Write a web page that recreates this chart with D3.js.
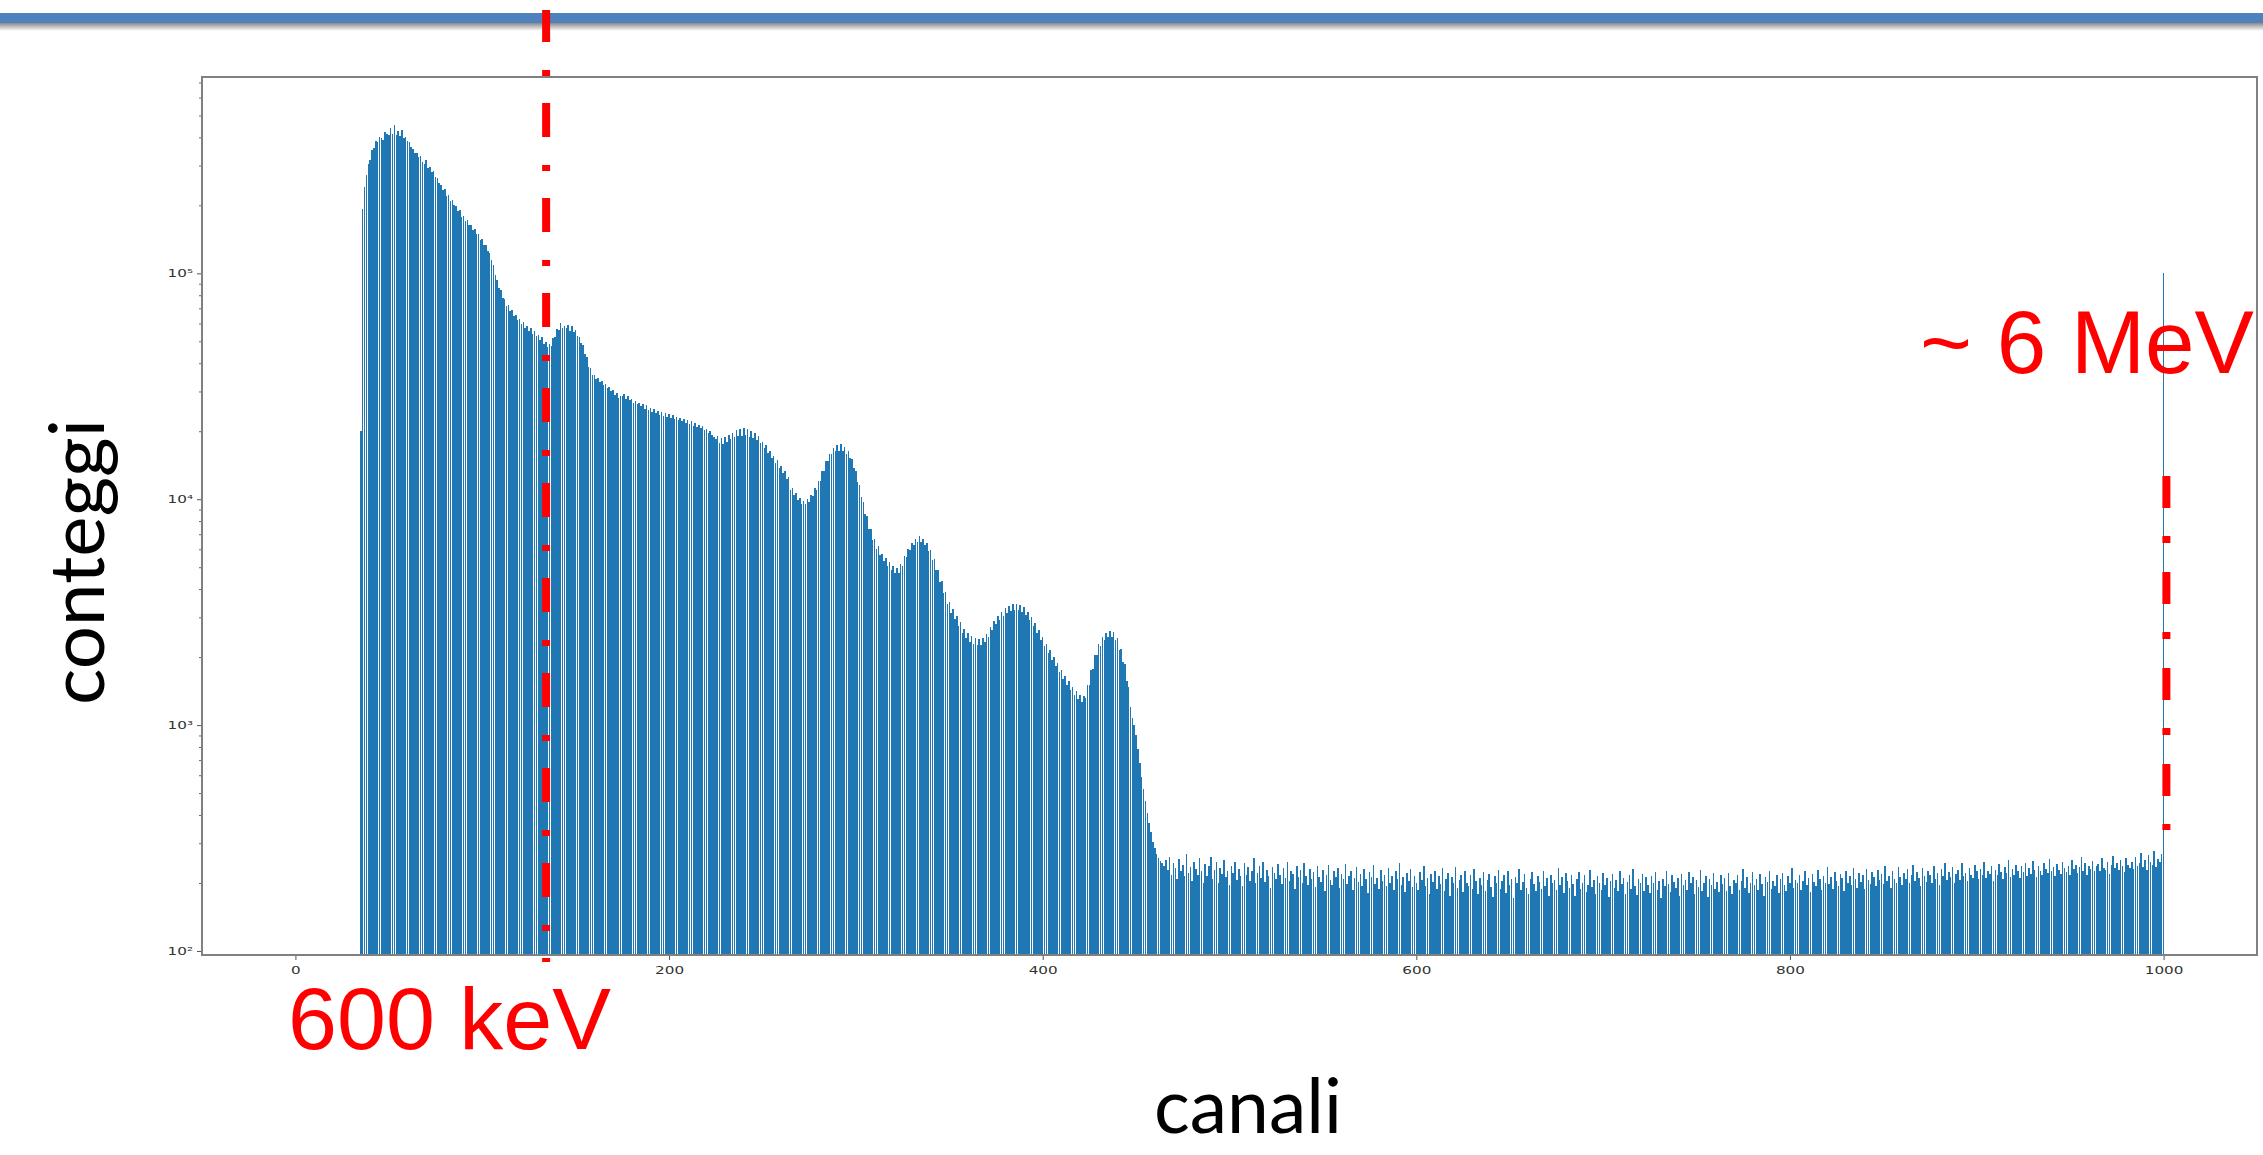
<!DOCTYPE html>
<html><head><meta charset="utf-8">
<script src="https://cdn.jsdelivr.net/npm/d3@7"></script>
<style>html,body{margin:0;padding:0;background:#fff;overflow:hidden}</style>
</head><body>
<svg id="chart" width="2263" height="1155"></svg>
<script>
// ---------------- DATA ----------------
const firstChannel = 35;
// channels 35-114
const countsRise = [
20000,192000,241000,272000,305000,318000,352000,359000,386000,383000,
402000,398000,391000,422000,416000,409000,438000,414000,452000,411000,
426000,404000,433000,398000,401000,384000,381000,362000,356000,341000,
342000,326000,331000,312000,305000,318000,293000,296000,280000,283000,
268000,265000,251000,247000,233000,236000,221000,223000,209000,212000,
200000,199000,188000,190000,178000,179000,171000,172000,163000,164000,
156000,157000,149000,150000,141000,142000,134000,133000,125000,123000,
115000,109000,98000,93000,86000,84000,78000,77000,72000,72500];
// channels 115-214
const countsCompton = [
68000,69000,65000,65500,62000,63000,59500,61000,57000,58500,
55500,57000,54000,55500,53000,53500,50500,52000,48500,49500,
47000,48500,47500,51500,52000,56500,56000,60500,57000,58500,
57500,59000,55500,58500,55000,56000,53000,52500,49000,48000,
44000,42500,38500,38000,35500,35500,34000,34500,33000,33500,
32000,32500,31000,31500,30000,30500,29000,29500,28000,28500,
28700,29200,27900,28600,27400,27900,26700,27300,26300,26700,
25900,26500,25200,26000,24800,25400,24400,25000,24000,24600,
23700,24300,23300,24000,23100,23800,22900,23500,22600,23200,
22400,23000,22100,22700,21800,22400,21500,22100,21200,21700];
// channels 215-464
const countsPeaks = [
20900,21400,20600,21000,20200,20500,19700,20000,19200,18900,
18400,19100,17800,18600,17600,18800,17900,19200,18400,19600,
18800,20300,19100,20500,19100,20700,19300,20400,18900,20100,
18600,19600,18200,19100,17700,18000,16900,17300,16100,16400,
15200,15600,14500,14900,13800,14000,13000,13300,12300,12500,
11000,11200,10400,10700,9900,10100,9500,9800,9500,10000,
9700,10400,10300,11200,11000,12100,12100,13300,13400,14700,
14700,15900,15800,16900,16400,17400,16300,17500,16300,17100,
15900,16300,15300,15100,13700,13400,11900,11600,10200,9700,
8600,8400,7400,7400,6600,6700,6000,6200,5650,5750,
5350,5500,5050,5250,4850,5050,4700,4950,4700,5150,
5050,5600,5550,6050,5950,6400,6250,6700,6450,6850,
6450,6700,6250,6400,5900,5950,5400,5450,4850,4850,
4300,4350,3850,3900,3450,3500,3150,3250,2950,3050,
2750,2850,2570,2670,2440,2550,2340,2480,2290,2440,
2270,2410,2270,2430,2330,2540,2460,2720,2640,2890,
2790,3050,2930,3180,3050,3290,3130,3380,3200,3420,
3230,3440,3220,3400,3160,3320,3060,3180,2910,3010,
2740,2820,2560,2630,2390,2450,2230,2290,2090,2150,
1950,2000,1820,1880,1710,1760,1600,1650,1500,1560,
1430,1480,1360,1420,1300,1360,1260,1350,1320,1500,
1510,1760,1780,2050,2040,2280,2230,2460,2370,2570,
2450,2620,2460,2580,2370,2420,2160,2170,1900,1860,
1570,1480,1200,1080,1000,900,780,680,590,520,
460,410,370,335,305,285,270,258,250,244];
// channels 465-999
const countsTail = [
238,252,229,261,218,244,233,209,256,227,241,214,268,222,236,205,249,231,217,258,
226,199,243,214,237,262,208,229,247,201,233,219,254,212,226,196,239,221,248,207,
230,215,193,244,218,235,204,226,257,199,221,238,210,247,203,228,214,191,236,222,
208,243,217,198,232,211,249,205,226,219,188,237,213,229,201,246,215,196,231,209,
224,192,239,212,203,228,185,218,241,207,195,226,213,234,190,220,209,243,198,215,
227,186,211,236,202,219,194,230,208,181,224,213,240,197,210,188,228,205,217,193,
233,201,214,187,226,209,245,196,212,183,221,204,230,192,215,199,186,224,207,238,
194,211,178,219,203,227,189,214,197,232,185,208,221,176,212,199,235,191,206,218,
183,225,201,193,216,188,230,204,179,211,196,223,185,207,219,192,174,214,200,228,
189,205,217,181,226,195,208,172,213,199,231,186,203,220,191,178,209,224,197,184,
215,202,189,227,193,210,176,218,199,206,186,233,195,212,180,221,204,191,216,198,
175,209,224,188,201,217,183,196,228,192,207,179,214,200,187,222,195,210,173,204,
219,190,206,184,225,197,211,178,203,216,189,231,194,177,208,199,220,185,212,196,
181,214,200,223,187,205,171,209,193,226,198,183,217,202,190,211,176,219,195,207,
186,224,199,213,179,206,192,229,184,201,215,174,209,196,221,188,203,182,216,197,
210,185,222,193,178,207,199,218,187,204,230,191,213,180,200,224,195,208,186,219,
198,176,212,203,227,189,205,194,217,181,209,222,196,185,214,201,232,190,207,199,
218,187,204,226,195,211,183,220,202,193,229,208,186,215,200,236,197,212,189,223,
205,194,219,210,184,227,201,214,196,233,208,190,221,203,217,188,230,206,198,224,
212,193,228,207,219,197,238,204,215,190,226,209,201,235,213,196,222,208,230,199,
217,241,205,223,211,194,232,214,203,227,218,200,239,209,221,196,230,215,244,206,
224,212,236,201,219,228,207,246,215,222,204,233,218,210,240,225,208,231,217,249,
211,227,220,238,205,229,216,243,223,209,235,221,252,213,230,218,241,226,210,237,
224,245,214,232,219,250,228,212,239,225,217,246,231,221,256,227,236,215,242,229,
220,248,233,224,238,216,253,230,241,222,235,260,227,244,218,239,231,251,226,237,
242,225,257,234,229,248,219,240,263,232,245,228,252,237,224,258,241,233,249,230,
262,238,244,271,235,253,229,266,247,240,278,236,255,249,268];
const spikeChannel = 1000;
const spikeCount = 100000;

const xTicks = [0, 200, 400, 600, 800, 1000];
const yMajorTicks = [1e2, 1e3, 1e4, 1e5];
const yMajorLabels = ["10²", "10³", "10⁴", "10⁵"];
const yMinorTicks = [2,3,4,5,6,7,8,9].flatMap(m => [1e2, 1e3, 1e4, 1e5].map(d => m * d)).filter(v => v < 7.4e5);

const xLabel = "canali";
const yLabel = "conteggi";
const markerLow = { channel: 134.2, text: "600 keV" };
const markerHigh = { channel: 1001.5, text: "~ 6 MeV" };

// ---------------- CHART ----------------
const allCounts = countsRise.concat(countsCompton, countsPeaks, countsTail);
const bins = allCounts.map((c, i) => ({ ch: firstChannel + i, v: c }));
bins.push({ ch: spikeChannel, v: spikeCount });

const svg = d3.select("#chart");
const L = 202, R = 2257, T = 77, B = 955;

const x = d3.scaleLinear().domain([-50, 1050]).range([L, R]);
const y = d3.scaleLog().domain([96, 7.4e5]).range([B, T]);

// header bar with shadow
const defs = svg.append("defs");
const grad = defs.append("linearGradient").attr("id", "shade").attr("x1", 0).attr("x2", 0).attr("y1", 0).attr("y2", 1);
grad.append("stop").attr("offset", 0).attr("stop-color", "#8a8a8a");
grad.append("stop").attr("offset", 1).attr("stop-color", "#ffffff");
svg.append("rect").attr("x", 0).attr("y", 23).attr("width", 2263).attr("height", 8).attr("fill", "url(#shade)");
svg.append("rect").attr("x", 0).attr("y", 13).attr("width", 2263).attr("height", 10).attr("fill", "#4f81bd");

// bars
svg.append("g").attr("shape-rendering", "crispEdges").selectAll("rect").data(bins).join("rect")
  .attr("x", d => x(d.ch - 0.41))
  .attr("width", d => x(d.ch + 0.41) - x(d.ch - 0.41))
  .attr("y", d => y(d.v))
  .attr("height", d => B - y(d.v))
  .attr("fill", "#1f77b4");

// axes
const stretch = 1.45;
const gx = svg.append("g").attr("transform", `translate(0,${B})`)
  .call(d3.axisBottom(x).tickValues(xTicks).tickSize(5).tickPadding(7).tickFormat(d3.format("d")));
gx.select(".domain").remove();
gx.selectAll(".tick line").attr("stroke", "#555");
gx.selectAll(".tick text").attr("font-family", "DejaVu Sans").attr("font-size", 10.5).attr("fill", "#333")
  .attr("transform", `scale(${stretch},1)`);

const gy = svg.append("g").attr("transform", `translate(${L},0)`)
  .call(d3.axisLeft(y).tickValues(yMajorTicks).tickSize(5).tickPadding(4).tickFormat((d, i) => yMajorLabels[i]));
gy.select(".domain").remove();
gy.selectAll(".tick line").attr("stroke", "#555");
gy.selectAll(".tick text").attr("font-family", "DejaVu Sans").attr("font-size", 10.5).attr("fill", "#333")
  .attr("transform", `translate(-9,0) scale(${stretch},1) translate(9,0)`);

const gym = svg.append("g").attr("transform", `translate(${L},0)`)
  .call(d3.axisLeft(y).tickValues(yMinorTicks).tickSize(3).tickFormat(""));
gym.select(".domain").remove();
gym.selectAll(".tick line").attr("stroke", "#666");

// frame
svg.append("rect").attr("x", L).attr("y", T).attr("width", R - L).attr("height", B - T)
  .attr("fill", "none").attr("stroke", "#808080").attr("stroke-width", 2);

// annotation texts
svg.append("text").attr("x", 288).attr("y", 1049).attr("font-family", "Liberation Sans, Arial")
  .attr("font-size", 88).attr("fill", "#ff0000").text(markerLow.text);
svg.append("text").attr("x", 1920).attr("y", 373).attr("font-family", "Liberation Sans, Arial")
  .attr("font-size", 89).attr("fill", "#ff0000").text(markerHigh.text);

// axis titles (slide text)
function fitText(sel, targetW) {
  const w = sel.node().getComputedTextLength();
  const fs = +sel.attr("font-size");
  sel.attr("font-size", fs * targetW / w);
}
const xt = svg.append("text").attr("x", 1248).attr("y", 1133).attr("text-anchor", "middle")
  .attr("font-family", "Lato").attr("font-size", 76).attr("fill", "#000").text(xLabel);
fitText(xt, 188);
const yt = svg.append("text").attr("transform", "translate(104,562) rotate(-90)").attr("text-anchor", "middle")
  .attr("font-family", "Lato").attr("font-size", 76).attr("fill", "#000").text(yLabel);
fitText(yt, 286);

// red dash-dot markers
svg.append("line").attr("x1", x(markerLow.channel)).attr("x2", x(markerLow.channel))
  .attr("y1", 10).attr("y2", 962)
  .attr("stroke", "#ff0000").attr("stroke-width", 8)
  .attr("stroke-dasharray", "34,28,6,27").attr("stroke-dashoffset", 2);
svg.append("line").attr("x1", x(markerHigh.channel)).attr("x2", x(markerHigh.channel))
  .attr("y1", 476).attr("y2", 830)
  .attr("stroke", "#ff0000").attr("stroke-width", 8)
  .attr("stroke-dasharray", "32,28,7,29");
</script>
</body></html>
